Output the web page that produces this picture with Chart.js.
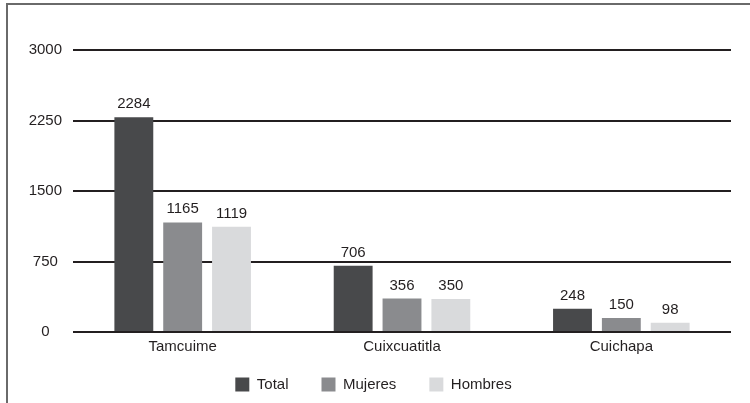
<!DOCTYPE html>
<html>
<head>
<meta charset="utf-8">
<script src="https://cdn.jsdelivr.net/npm/chart.js@4/dist/chart.umd.min.js"></script>
<style>
  html, body { margin: 0; padding: 0; background: #fff; }
  #wrap { position: relative; width: 750px; height: 403px; overflow: hidden; }
  #frame { position: absolute; left: 6px; top: 3px; width: 800px; height: 500px;
           border-left: 2px solid #6a6a6a; border-top: 2px solid #6a6a6a; }
  canvas { position: absolute; left: 0; top: 0; }
</style>
</head>
<body>
<div id="wrap">
  <div id="frame"></div>
  <canvas id="c" width="750" height="403"></canvas>
</div>
<script>
const categories = ["Tamcuime", "Cuixcuatitla", "Cuichapa"];
const seriesNames = ["Total", "Mujeres", "Hombres"];
const totalValues = [2284, 706, 248];
const mujeresValues = [1165, 356, 150];
const hombresValues = [1119, 350, 98];
const yTicks = [0, 750, 1500, 2250, 3000];

const colors = ["#48494b", "#8a8b8e", "#d9dadc"];
const FONT = "'Liberation Sans', Arial, Helvetica, sans-serif";
const TEXT = "#231f20";

const valueLabels = {
  id: "valueLabels",
  afterDatasetsDraw(chart) {
    const ctx = chart.ctx;
    ctx.save();
    ctx.font = "15px " + FONT;
    ctx.fillStyle = TEXT;
    ctx.textAlign = "center";
    ctx.textBaseline = "alphabetic";
    chart.data.datasets.forEach((ds, i) => {
      const meta = chart.getDatasetMeta(i);
      meta.data.forEach((bar, j) => {
        ctx.fillText(String(ds.data[j]), bar.x, bar.y - 9);
      });
    });
    ctx.restore();
  }
};

const legendShift = {
  id: "legendShift",
  afterLayout(chart) {
    const lg = chart.legend;
    if (lg) {
      lg.left += 8; lg.right += 8;
      lg.top -= 18;
    }
  }
};

new Chart(document.getElementById("c"), {
  type: "bar",
  data: {
    labels: categories,
    datasets: [
      { label: seriesNames[0], data: totalValues, backgroundColor: colors[0] },
      { label: seriesNames[1], data: mujeresValues, backgroundColor: colors[1] },
      { label: seriesNames[2], data: hombresValues, backgroundColor: colors[2] }
    ]
  },
  options: {
    responsive: false,
    animation: false,
    devicePixelRatio: 1,
    layout: { padding: { top: 50, right: 19, bottom: 0, left: 0 } },
    datasets: { bar: { categoryPercentage: 0.668, barPercentage: 0.796 } },
    plugins: {
      legend: {
        position: "bottom",
        maxHeight: 41,
        labels: {
          font: { family: FONT, size: 15 },
          color: TEXT,
          boxWidth: 14,
          boxHeight: 14,
          padding: 33
        }
      },
      tooltip: { enabled: false }
    },
    scales: {
      x: {
        afterFit(scale) { scale.height = 30; },
        grid: { display: false, drawTicks: false },
        border: { display: false },
        ticks: { font: { family: FONT, size: 15 }, color: TEXT, padding: 6 }
      },
      y: {
        min: 0, max: 3000,
        afterBuildTicks(scale) { scale.ticks = yTicks.map(v => ({ value: v })); },
        afterFit(scale) { scale.width = 73; },
        grid: { color: "#231f20", lineWidth: 2, drawTicks: false },
        border: { display: false },
        ticks: { font: { family: FONT, size: 15 }, color: TEXT, padding: 11, crossAlign: "center",
                 callback: v => String(v) }
      }
    }
  },
  plugins: [valueLabels, legendShift]
});
</script>
</body>
</html>
